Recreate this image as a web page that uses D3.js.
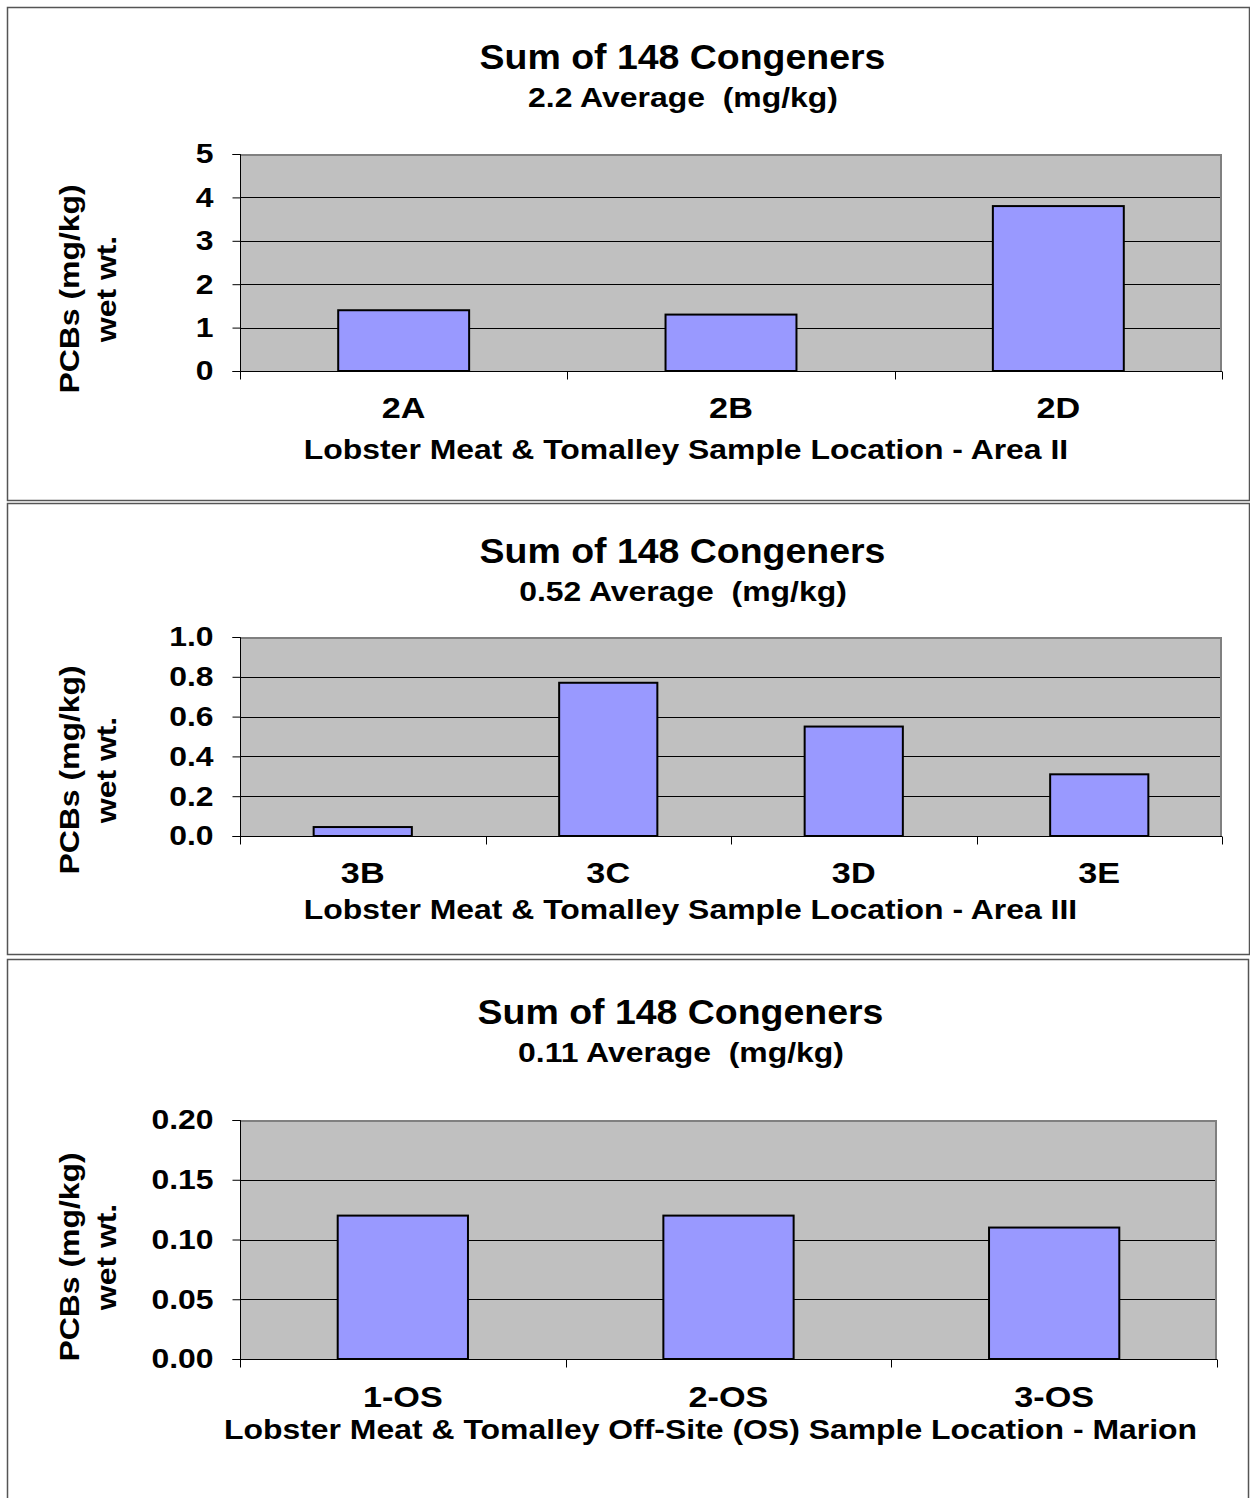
<!DOCTYPE html>
<html><head><meta charset="utf-8">
<script src="https://cdn.jsdelivr.net/npm/d3@7/dist/d3.min.js"></script>
<style>body{margin:0;background:#fff}svg{display:block}text{font-family:"Liberation Sans",Arial,sans-serif;font-weight:bold;fill:#000;white-space:pre}</style>
</head><body>
<svg id="c" width="1250" height="1498"></svg>
<script>
// Panel 1 — Area II
const area2Categories = ["2A", "2B", "2D"];
const area2Values = [1.4, 1.3, 3.8];
const area2Ticks = [0, 1, 2, 3, 4, 5];
// Panel 2 — Area III
const area3Categories = ["3B", "3C", "3D", "3E"];
const area3Values = [0.045, 0.77, 0.55, 0.31];
const area3Ticks = [0, 0.2, 0.4, 0.6, 0.8, 1.0];
// Panel 3 — Off-site
const offsiteCategories = ["1-OS", "2-OS", "3-OS"];
const offsiteValues = [0.12, 0.12, 0.11];
const offsiteTicks = [0, 0.05, 0.10, 0.15, 0.20];

const titles = ["Sum of 148 Congeners", "Sum of 148 Congeners", "Sum of 148 Congeners"];
const subtitles = ["2.2 Average  (mg/kg)", "0.52 Average  (mg/kg)", "0.11 Average  (mg/kg)"];
const xTitles = ["Lobster Meat & Tomalley Sample Location - Area II",
  "Lobster Meat & Tomalley Sample Location - Area III",
  "Lobster Meat & Tomalley Off-Site (OS) Sample Location - Marion"];
const yTitle1 = "PCBs (mg/kg)", yTitle2 = "wet wt.";

const svg = d3.select("#c");
const K = 1.14; // horizontal widening of the reference's text rendering
function stretch(sel, k) {
  sel.each(function () {
    const L = this.getComputedTextLength();
    this.setAttribute("textLength", L * k);
    this.setAttribute("lengthAdjust", "spacingAndGlyphs");
  });
}

const panels = [
  {box:[7,7,1249,500], plot:[240,154,1222,371], cats:area2Categories, vals:area2Values, ticks:area2Ticks, fmt:d3.format("d"),
   titleX:682.5, titleY:69, subX:683, subY:107, catY:418, xTitleX:686, xTitleY:459, yMid:289},
  {box:[7,503,1249,954], plot:[240,637,1222,836], cats:area3Categories, vals:area3Values, ticks:area3Ticks, fmt:d3.format(".1f"),
   titleX:682.5, titleY:563, subX:683, subY:601, catY:883, xTitleX:690.5, xTitleY:919, yMid:770},
  {box:[7,959,1248,1510], plot:[240,1120,1217,1359], cats:offsiteCategories, vals:offsiteValues, ticks:offsiteTicks, fmt:d3.format(".2f"),
   titleX:680.5, titleY:1024, subX:681, subY:1062, catY:1407, xTitleX:710.5, xTitleY:1439, yMid:1257}
];

panels.forEach((p, i) => {
  const [bx0, by0, bx1, by1] = p.box;
  svg.append("rect").attr("x", bx0+0.5).attr("y", by0+0.5).attr("width", bx1-bx0).attr("height", by1-by0)
    .attr("fill", "#fff").attr("stroke", "#555").attr("stroke-width", 1.5);
  const [x0, y0, x1, y1] = p.plot;
  const x = d3.scaleBand().domain(p.cats).range([x0, x1]).paddingInner(0.6).paddingOuter(0.3);
  const xb = d3.scaleBand().domain(p.cats).range([x0, x1]);
  const y = d3.scaleLinear().domain([0, d3.max(p.ticks)]).range([y1, y0]);
  const g = svg.append("g");
  g.append("rect").attr("x", x0).attr("y", y0).attr("width", x1-x0).attr("height", y1-y0).attr("fill", "#c0c0c0");
  g.selectAll(".grid").data(p.ticks.filter(t => t > 0 && t < d3.max(p.ticks))).join("line")
    .attr("x1", x0).attr("x2", x1).attr("y1", d => Math.round(y(d))+0.5).attr("y2", d => Math.round(y(d))+0.5)
    .attr("stroke", "#000").attr("stroke-width", 1);
  g.append("path").attr("d", `M${x0},${y0+1}H${x1-1}V${y1}`).attr("fill", "none").attr("stroke", "#808080").attr("stroke-width", 2);
  g.selectAll(".bar").data(p.cats).join("rect")
    .attr("x", d => x(d)).attr("width", x.bandwidth())
    .attr("y", (d, k) => y(p.vals[k])).attr("height", (d, k) => y(0) - y(p.vals[k]))
    .attr("fill", "#9999ff").attr("stroke", "#000").attr("stroke-width", 2);
  // y axis
  const ya = d3.axisLeft(y).tickValues(p.ticks).tickFormat(p.fmt).tickSize(8).tickPadding(19);
  const yg = g.append("g").attr("transform", `translate(${x0+0.5},0)`).call(ya);
  yg.select(".domain").attr("d", `M-8,${y0+0.5}H0V${y1+0.5}H-8`).attr("stroke", "#000").attr("fill","none");
  yg.selectAll(".tick line").attr("stroke", "#000");
  const yt = yg.selectAll(".tick text").style("font-size", "28px").style("font-family", '"Liberation Sans",Arial,sans-serif').style("font-weight", "bold").attr("fill", "#000");
  stretch(yt, K);
  // x axis
  const xa = d3.axisBottom(xb).tickSize(0).tickPadding(0).tickFormat("");
  const xg = g.append("g").attr("transform", `translate(0,${y1+0.5})`).call(xa);
  xg.select(".domain").attr("d", `M${x0},0H${x1}`).attr("stroke", "#000");
  const bounds = p.cats.map(c => xb(c)).concat([x1]);
  xg.selectAll(".bound").data(bounds).join("line")
    .attr("x1", d => Math.round(d)+0.5).attr("x2", d => Math.round(d)+0.5).attr("y1", 0).attr("y2", 8).attr("stroke", "#000");
  const ct = g.selectAll(".cat").data(p.cats).join("text")
    .attr("x", d => xb(d) + xb.bandwidth()/2).attr("y", p.catY).attr("text-anchor", "middle")
    .style("font-size", "30px").text(d => d);
  stretch(ct, K);
  // titles
  stretch(svg.append("text").attr("x", p.titleX).attr("y", p.titleY).attr("text-anchor", "middle").style("font-size", "35px").text(titles[i]), 1.07);
  stretch(svg.append("text").attr("x", p.subX).attr("y", p.subY).attr("text-anchor", "middle").style("font-size", "28px").text(subtitles[i]), K);
  stretch(svg.append("text").attr("x", p.xTitleX).attr("y", p.xTitleY).attr("text-anchor", "middle").style("font-size", "28px").text(xTitles[i]), K);
  stretch(svg.append("text").attr("transform", `translate(79,${p.yMid}) rotate(-90)`).attr("text-anchor", "middle").style("font-size", "28px").text(yTitle1), K);
  stretch(svg.append("text").attr("transform", `translate(116,${p.yMid}) rotate(-90)`).attr("text-anchor", "middle").style("font-size", "28px").text(yTitle2), K);
});
</script>
</body></html>
